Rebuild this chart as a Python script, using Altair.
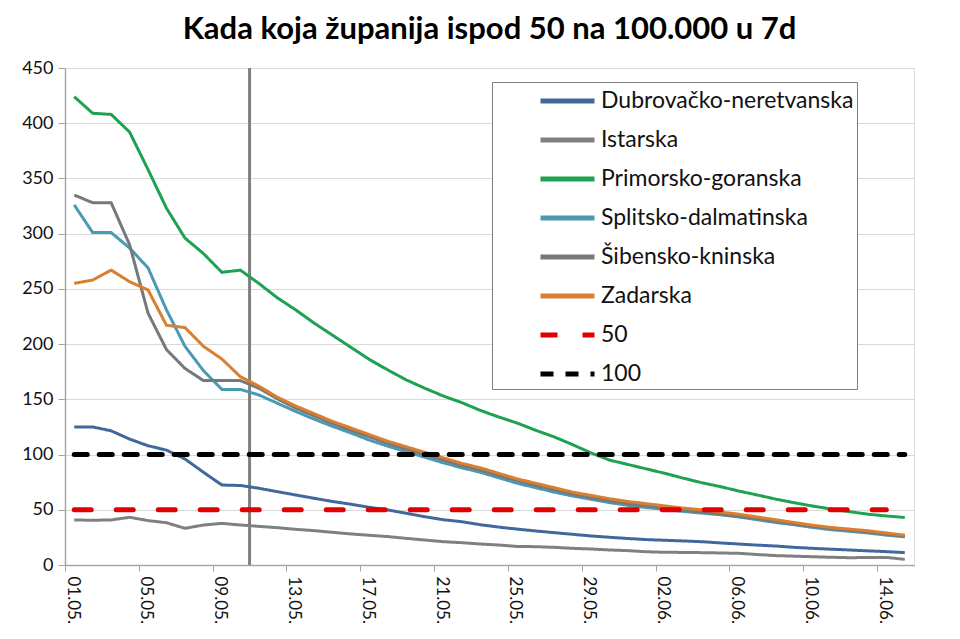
import altair as alt
import pandas as pd

dates = ["01.05.", "02.05.", "03.05.", "04.05.", "05.05.", "06.05.", "07.05.", "08.05.", "09.05.", "10.05.",
         "11.05.", "12.05.", "13.05.", "14.05.", "15.05.", "16.05.", "17.05.", "18.05.", "19.05.", "20.05.",
         "21.05.", "22.05.", "23.05.", "24.05.", "25.05.", "26.05.", "27.05.", "28.05.", "29.05.", "30.05.",
         "31.05.", "01.06.", "02.06.", "03.06.", "04.06.", "05.06.", "06.06.", "07.06.", "08.06.", "09.06.",
         "10.06.", "11.06.", "12.06.", "13.06.", "14.06.", "15.06."]

names = ["Dubrovačko-neretvanska", "Istarska", "Primorsko-goranska", "Splitsko-dalmatinska",
         "Šibensko-kninska", "Zadarska", "50", "100"]
colors = ["#41689C", "#808080", "#1EA252", "#4A9AB4", "#787878", "#DA7E2F", "#E00000", "#000000"]

dubrovacko = [125, 125, 121.5, 114, 108, 104, 96, 84, 72.4, 72,
              69.5, 66.4, 63.4, 60.4, 57.5, 55, 52.2, 49.8, 46.8, 43.7,
              41, 39.2, 36.5, 34.3, 32.5, 30.8, 29.3, 27.8, 26.3, 25.1,
              24, 23, 22.4, 21.8, 21.1, 20, 19, 18, 17.2, 16,
              15.1, 14.3, 13.6, 12.8, 12.1, 11.2]
istarska = [40.8, 40.5, 40.8, 43.2, 40.2, 38.3, 33.2, 36.2, 37.7, 36.2,
            35, 33.8, 32.3, 31.1, 29.6, 28.1, 26.9, 25.7, 24.1, 22.6,
            21.1, 20.2, 19, 18.1, 16.8, 16.6, 16, 15.1, 14.5, 13.6,
            13, 12, 11.5, 11.4, 11.2, 10.9, 10.6, 9.5, 8.5, 8,
            7.5, 7, 6.6, 6.8, 6.9, 5.1]
primorsko = [424, 409, 408, 392, 358, 323, 296, 282, 265, 267,
             255, 242, 231, 219, 208, 197, 186, 176.5, 167.5, 160,
             153, 147, 140, 134, 128.5, 122, 116, 109, 101.5, 95,
             91, 87, 83, 78.6, 74.5, 71, 67, 63.4, 59.7, 56.4,
             53.4, 50.7, 48.3, 46, 44.4, 43]
splitsko = [326, 301, 301, 287, 269, 231, 198, 176, 159, 159,
            154, 146.5, 139, 132, 125.5, 119.5, 113, 107.5, 102.5, 97.5,
            92.5, 88, 84, 79, 74, 70, 66, 62.5, 59.5, 56.5,
            54, 52, 50.5, 48.5, 47, 45.5, 43.5, 41, 38.5, 36.5,
            34, 32, 30.5, 29, 27, 25.5]
sibensko = [335, 328, 328, 290, 228, 195, 178, 167, 167, 167,
            160, 150.5, 142, 135, 128, 122, 116, 110, 105, 100,
            95, 90, 86, 81, 76.5, 72, 68, 64, 61, 58,
            55.5, 53.5, 51.5, 49.5, 48, 46, 44, 42, 39.5, 37,
            35, 33, 31.5, 30, 28, 26]
zadarska = [255, 258, 267, 256.5, 249, 217, 215, 198, 186.5, 170.5,
            162, 152, 144, 137, 130, 124, 118, 112, 107, 102,
            97, 92, 88, 83, 78, 74, 70, 66, 63, 60,
            57.5, 55.5, 53.5, 51.5, 50, 48, 46, 43.5, 41, 38.5,
            36, 34, 32.5, 31, 29, 27]
line50 = [50] * 45
line100 = [100] * 46
split_day = 10  # boundary between 10.05. and 11.05.

series = [dubrovacko, istarska, primorsko, splitsko, sibensko, zadarska]
rows = []
for nm, vals in zip(names[:6], series):
    for i, v in enumerate(vals):
        rows.append({"name": nm, "x": i + 0.5, "v": v, "kind": "s"})
for nm, vals in zip(names[6:], [line50, line100]):
    for i, v in enumerate(vals):
        rows.append({"name": nm, "x": i + 0.5, "v": v, "kind": "t"})
df = pd.DataFrame(rows)

FONT = "Lato"
label_arr = "[" + ",".join("'" + d + "'" for d in dates) + "]"

legend = alt.Legend(
    title=None, orient="none", legendX=427, legendY=14,
    fillColor="white", strokeColor="#7f7f7f",
    padding=3, symbolType="M-1,0L3,0", symbolSize=729, symbolStrokeWidth=5,
    symbolOffset=43, labelFont=FONT, labelFontSize=23, labelColor="#111111",
    rowPadding=11, labelOffset=31, labelLimit=500,
)

xscale = alt.Scale(domain=[0, 46], nice=False, zero=False)
yscale = alt.Scale(domain=[0, 450], nice=False)

xaxis = alt.Axis(
    values=list(range(0, 47, 2)), grid=False, title=None,
    labelExpr="datum.value < 46 ? " + label_arr + "[datum.value] : ''",
    labelAngle=90, labelAlign="left", labelBaseline="middle", labelOffset=7,
    labelPadding=5, labelFont=FONT, labelFontSize=17, labelColor="#111111",
    tickSize=6, tickColor="#a6a6a6", domainColor="#a6a6a6", domainWidth=1.5,
)
yaxis = alt.Axis(
    values=list(range(0, 451, 50)), grid=True, gridColor="#d9d9d9", gridWidth=1.2,
    title=None, labelFont=FONT, labelFontSize=18, labelColor="#111111",
    labelPadding=5, tickSize=7, tickColor="#a6a6a6", domainColor="#a6a6a6", domainWidth=1.5,
)

color = alt.Color("name:N", scale=alt.Scale(domain=names, range=colors), legend=legend, sort=names)
dash = alt.StrokeDash(
    "name:N",
    scale=alt.Scale(domain=names, range=[[1, 0]] * 6 + [[17, 25], [13, 12]]),
    legend=legend, sort=names,
)

base = alt.Chart(df)
lines = base.transform_filter(alt.datum.kind == "s").mark_line(strokeWidth=3).encode(
    x=alt.X("x:Q", scale=xscale, axis=xaxis),
    y=alt.Y("v:Q", scale=yscale, axis=yaxis),
    color=color, strokeDash=dash, detail="name:N",
)
thresholds = base.transform_filter(alt.datum.kind == "t").mark_line(strokeWidth=5, strokeCap="round").encode(
    x=alt.X("x:Q", scale=xscale),
    y=alt.Y("v:Q", scale=yscale),
    color=color, strokeDash=dash, detail="name:N",
)
vline = alt.Chart(pd.DataFrame({"d": [split_day]})).mark_rule(color="#7f7f7f", strokeWidth=3).encode(
    x=alt.X("d:Q", scale=xscale),
)

chart = alt.layer(vline, lines, thresholds).properties(
    width=849, height=497,
    autosize=alt.AutoSizeParams(type="none"),
    padding={"left": 57, "top": 60, "right": 30, "bottom": 66},
    title=alt.TitleParams(
        "Kada koja županija ispod 50 na 100.000 u 7d",
        font=FONT, fontSize=31, fontWeight="bold", color="#000000",
        anchor="middle", offset=13,
    ),
).configure_view(stroke=None).configure(background="white")

chart.save("out.html", embed_options={"renderer": "svg", "actions": False})
